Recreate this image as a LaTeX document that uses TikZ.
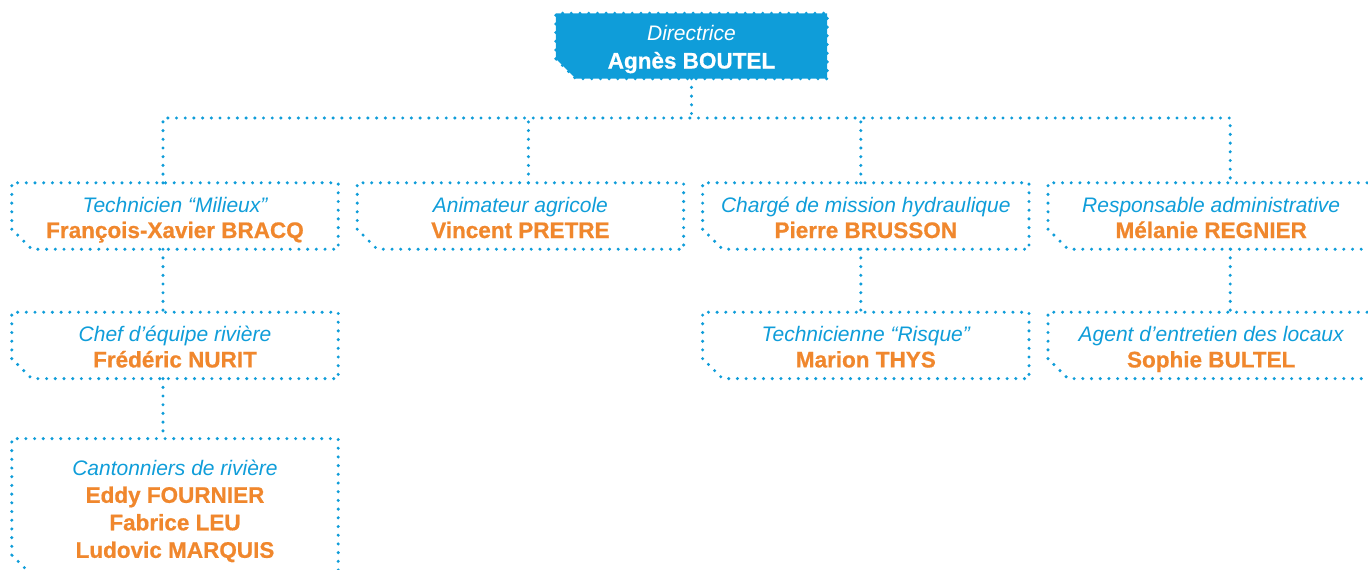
\documentclass[tikz,border=0pt]{standalone}
\usepackage{fontspec}
\setmainfont{Liberation Sans}
\newfontfamily\lourd[FakeBold=0.7]{Liberation Sans Bold}
\usetikzlibrary{positioning}
\definecolor{orgblue}{HTML}{0F9DD9}
\definecolor{orgorange}{HTML}{F0872D}
\newcommand{\nom}[2][orgorange]{{\color{#1}\lourd\upshape\fontsize{22.5}{\baselineskip}\selectfont #2}}
\newcommand{\cadre}[2][]{\draw[pointille,#1] ([yshift=20pt]#2.south west) -- (#2.north west) -- (#2.north east) -- (#2.south east) -- ([xshift=20pt]#2.south west) -- cycle;}
\tikzset{
	pointille/.style={orgblue, line width=3.4pt, line cap=round, dash pattern=on 0pt off 8.7pt},
	lien/.style={pointille},
	poste/.style={minimum width=326pt, minimum height=66pt, inner sep=0pt, align=center, text=orgblue, font=\itshape\fontsize{21}{26}\selectfont, text height=49pt, text depth=5pt},
}
\begin{document}
\begin{tikzpicture}[x=1pt,y=-1pt]
	\useasboundingbox (0,0) rectangle (1368,570);
	\clip (0,0) rectangle (1368,570);
	
	\node[poste, minimum width=271pt, minimum height=65pt] (dir) at (691.5,46) {};
	\cadre[fill=orgblue]{dir}
	\node[poste, text=white, font=\itshape\fontsize{21}{28}\selectfont, text height=50pt] at (dir) {Directrice\\\nom[white]{Agnès BOUTEL}};
	
	\node[poste] (tech) at (175,216) {Technicien “Milieux”\\\nom{François-Xavier BRACQ}};
	\node[poste, right=19pt of tech] (anim) {Animateur agricole\\\nom{Vincent PRETRE}};
	\node[poste, right=19pt of anim] (hydro) {Chargé de mission hydraulique\\\nom{Pierre BRUSSON}};
	\node[poste, right=19pt of hydro] (admin) {Responsable administrative\\\nom{Mélanie REGNIER}};
	
	\node[poste, below=63pt of tech] (equipe) {Chef d’équipe rivière\\\nom{Frédéric NURIT}};
	\node[poste, below=63pt of hydro] (risque) {Technicienne “Risque”\\\nom{Marion THYS}};
	\node[poste, below=63pt of admin] (entretien) {Agent d’entretien des locaux\\\nom{Sophie BULTEL}};
	
	\node[poste, minimum height=136pt, below=60pt of equipe, font=\itshape\fontsize{21}{27.5}\selectfont, text height=107pt] (canto) {Cantonniers de rivière\\\nom{Eddy FOURNIER}\\\nom{Fabrice LEU}\\\nom{Ludovic MARQUIS}};
	
	\foreach \n in {tech,anim,hydro,admin,equipe,risque,entretien,canto}
		\cadre{\n};
	
	\coordinate (bus) at (0,118);
	\draw[lien] (dir.south) -- (dir.south |- bus);
	\draw[lien] ([xshift=-12pt]tech.north) -- ([xshift=-12pt]tech.north |- bus) -- ([xshift=19pt]admin.north |- bus) -- ([xshift=19pt]admin.north);
	\draw[lien] ([xshift=8pt]anim.north) -- ([xshift=8pt]anim.north |- bus);
	\draw[lien] ([xshift=-5pt]hydro.north) -- ([xshift=-5pt]hydro.north |- bus);
	
	\draw[lien] ([xshift=-12pt]tech.south) -- ([xshift=-12pt]equipe.north);
	\draw[lien] ([xshift=-12pt]equipe.south) -- ([xshift=-12pt]canto.north);
	\draw[lien] ([xshift=-5pt]hydro.south) -- ([xshift=-5pt]risque.north);
	\draw[lien] ([xshift=19pt]admin.south) -- ([xshift=19pt]entretien.north);
\end{tikzpicture}
\end{document}
